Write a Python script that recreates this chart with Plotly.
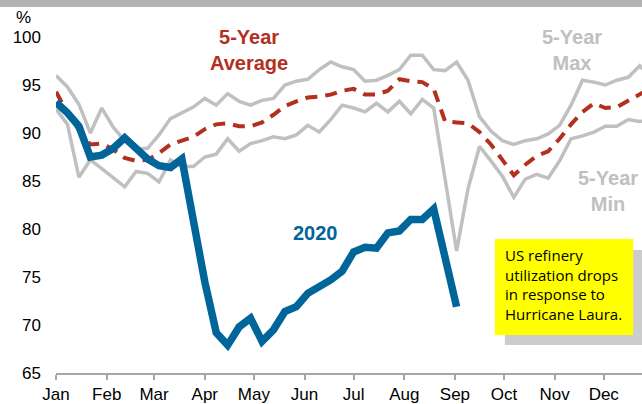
import plotly.graph_objects as go

# weekly refinery utilization, %
weeks = list(range(53))

util_2020 = [93.2, 92.1, 90.7, 87.5, 87.7, 88.4, 89.5, 88.4, 87.3, 86.6, 86.4, 87.3,
             80.9, 74.5, 69.2, 67.9, 69.8, 70.7, 68.3, 69.5, 71.4, 71.9, 73.3, 73.9,
             74.7, 75.6, 77.6, 78.1, 78.0, 79.6, 79.8, 81.0, 81.0, 82.1, 76.6, 71.9]

max_5y = [96.0, 94.8, 93.0, 90.0, 92.6, 90.6, 89.2, 88.3, 88.4, 89.8, 91.5, 92.1,
          92.7, 93.6, 92.9, 94.1, 93.3, 92.9, 93.4, 93.6, 95.0, 95.4, 95.6, 96.6,
          97.4, 96.9, 96.6, 95.4, 95.5, 96.0, 96.6, 98.1, 98.1, 96.6, 96.5, 97.4,
          95.5, 91.7, 90.2, 89.2, 88.8, 89.2, 89.4, 89.9, 90.8, 92.9, 95.5, 95.3,
          95.0, 95.5, 95.8, 97.0, 95.8]

min_5y = [92.5, 90.9, 85.4, 87.2, 86.3, 85.4, 84.4, 86.0, 85.8, 84.9, 87.2, 86.5,
          86.5, 87.5, 87.8, 89.4, 88.1, 88.9, 89.2, 89.6, 89.4, 89.8, 90.8, 90.1,
          91.4, 92.9, 92.6, 92.2, 93.1, 92.2, 93.3, 92.0, 93.5, 92.6, 85.0, 77.7,
          84.2, 88.6, 87.1, 85.5, 83.3, 85.2, 85.7, 85.3, 87.1, 89.4, 89.7, 90.1,
          90.7, 90.7, 91.4, 91.2, 91.3]

avg_5y = [94.3, 92.1, 90.3, 88.8, 88.9, 88.3, 87.4, 87.1, 87.2, 87.9, 88.8, 89.2,
          89.6, 90.4, 90.9, 91.0, 90.7, 90.7, 91.1, 91.9, 92.8, 93.3, 93.7, 93.8,
          94.0, 94.4, 94.6, 94.0, 94.0, 94.4, 95.6, 95.4, 95.3, 94.6, 91.2, 91.1,
          91.0, 90.1, 88.8, 87.2, 85.6, 86.7, 87.6, 88.1, 89.4, 90.9, 92.2, 93.1,
          92.6, 92.7, 93.4, 94.1, 94.7]

months = ["Jan", "Feb", "Mar", "Apr", "May", "Jun", "Jul", "Aug", "Sep", "Oct", "Nov", "Dec"]
month_start_day = [0, 31, 60, 91, 121, 152, 182, 213, 244, 274, 305, 335]

GRAY = "#c0c0c0"
RED = "#b3301f"
BLUE = "#00669a"
FONT = "Arial, Liberation Sans, sans-serif"

fig = go.Figure()
fig.add_trace(go.Scatter(x=weeks, y=max_5y, mode="lines", line=dict(color=GRAY, width=3.5)))
fig.add_trace(go.Scatter(x=weeks, y=min_5y, mode="lines", line=dict(color=GRAY, width=3.5)))
fig.add_trace(go.Scatter(x=weeks, y=avg_5y, mode="lines",
                         line=dict(color=RED, width=4, dash="12px,8px")))
fig.add_trace(go.Scatter(x=weeks[:len(util_2020)], y=util_2020, mode="lines",
                         line=dict(color=BLUE, width=7.5)))

# gray strip on top + yellow note box with shadow
fig.add_shape(type="rect", xref="paper", yref="paper", x0=-0.1, x1=1.01, y0=1.089, y1=1.12,
              fillcolor="#b3b3b3", line_width=0)
fig.add_shape(type="rect", xref="paper", yref="paper", x0=0.766, x1=1.01, y0=0.083, y1=0.366,
              fillcolor="#cccccc", line_width=0)
fig.add_shape(type="rect", xref="paper", yref="paper", x0=0.749, x1=0.985, y0=0.113, y1=0.399,
              fillcolor="#ffff00", line_width=0)

notes = [
    dict(text="%", x=-0.056, y=1.057, font=dict(size=17, color="#000000", family=FONT)),
    dict(text="<b>5-Year<br>Average</b>", x=0.329, y=0.961, font=dict(size=20, color=RED, family=FONT)),
    dict(text="<b>5-Year<br>Max</b>", x=0.8805, y=0.961, font=dict(size=20, color=GRAY, family=FONT)),
    dict(text="<b>5-Year<br>Min</b>", x=0.942, y=0.543, font=dict(size=20, color=GRAY, family=FONT)),
    dict(text="<b>2020</b>", x=0.442, y=0.417, font=dict(size=20, color=BLUE, family=FONT)),
]
for n in notes:
    fig.add_annotation(xref="paper", yref="paper", showarrow=False, xanchor="center",
                       yanchor="middle", **n)

fig.add_annotation(xref="paper", yref="paper", x=0.763, y=0.263, xanchor="left", yanchor="middle",
                   align="left", showarrow=False,
                   text="US refinery<br>utilization drops<br>in response to<br>Hurricane Laura.",
                   font=dict(size=15, color="#000000", family="Comic Sans MS, Open Sans, sans-serif"))

fig.update_layout(
    width=642, height=404,
    margin=dict(l=56, r=0, t=37, b=31),
    paper_bgcolor="white", plot_bgcolor="white",
    showlegend=False,
    font=dict(family=FONT, size=17, color="#000000"),
    xaxis=dict(range=[0, 51.2], tickvals=[d / 7 for d in month_start_day], ticktext=months,
               showgrid=False, zeroline=False, showline=True, linecolor="#a6a6a6", linewidth=2,
               ticks="outside", ticklen=5, tickwidth=2, tickcolor="#a6a6a6",
               tickfont=dict(size=17)),
    yaxis=dict(range=[65, 100], tickvals=[65, 70, 75, 80, 85, 90, 95, 100],
               showgrid=False, zeroline=False, showline=False, ticks="",
               ticklabelstandoff=14, tickfont=dict(size=17)),
)

# drop the page's default body margin so the chart sits at the window's corner
fig.write_html("out.html", config={"displayModeBar": False},
               post_script="document.body.style.margin='0';")
